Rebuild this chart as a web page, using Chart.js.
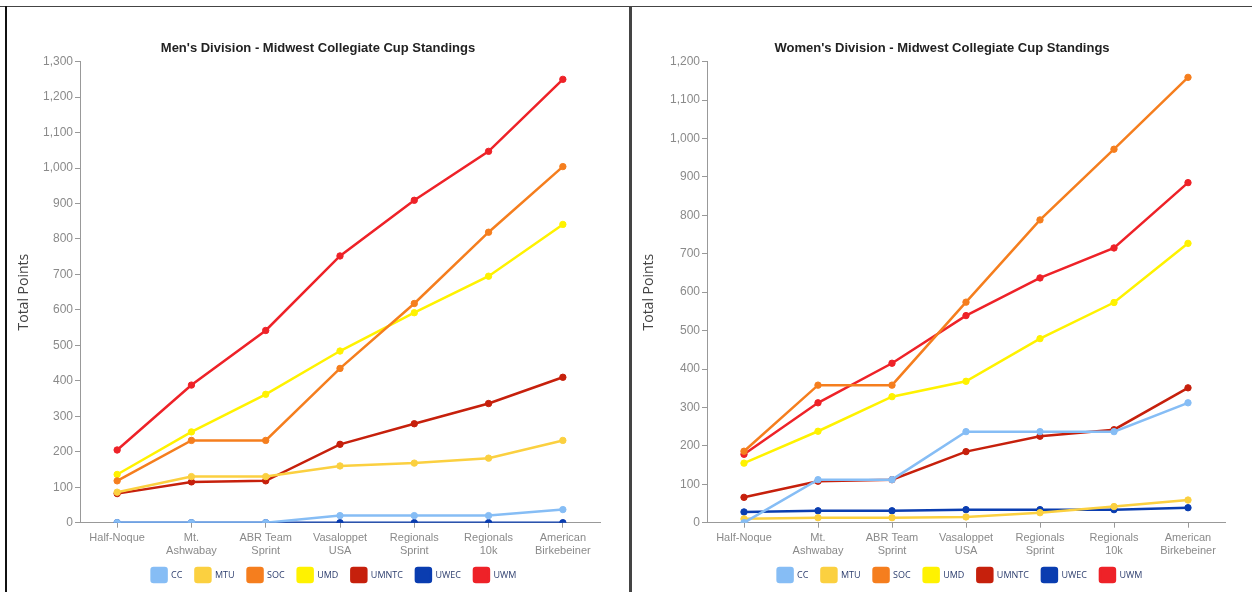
<!DOCTYPE html>
<html>
<head>
<meta charset="utf-8">
<title>Midwest Collegiate Cup Standings</title>
<script src="https://cdn.jsdelivr.net/npm/chart.js@4.4.1/dist/chart.umd.min.js"></script>
<style>
  html, body { margin: 0; padding: 0; background: #fff; }
  body { width: 1252px; height: 592px; position: relative; overflow: hidden; }
  .topline { position: absolute; left: 0; top: 6px; width: 1252px; height: 1px; background: #444; }
  .leftline { position: absolute; left: 5px; top: 6px; width: 2px; height: 586px; background: #111; }
  .divider { position: absolute; left: 629px; top: 6px; width: 3px; height: 586px; background: #444; }
  .panel { position: absolute; top: 7px; height: 585px; }
  #menPanel { left: 7px; width: 622px; }
  #womenPanel { left: 632px; width: 620px; }
</style>
</head>
<body>
<div class="topline"></div>
<div class="leftline"></div>
<div class="divider"></div>
<div class="panel" id="menPanel"><canvas id="menChart" width="622" height="585"></canvas></div>
<div class="panel" id="womenPanel"><canvas id="womenChart" width="620" height="585"></canvas></div>

<script>
// categories
const races = [
  "Half-Noque",
  ["Mt.", "Ashwabay"],
  ["ABR Team", "Sprint"],
  ["Vasaloppet", "USA"],
  ["Regionals", "Sprint"],
  ["Regionals", "10k"],
  ["American", "Birkebeiner"],
];
const teams = ["CC", "MTU", "SOC", "UMD", "UMNTC", "UWEC", "UWM"];
const teamColors = ["#86bdf5", "#fbd040", "#f57e1e", "#fff200", "#c6200c", "#0a3db0", "#ee2228"];

// men's totals after each race
const menCC = [0, 0, 0, 20, 20, 20, 37];
const menMTU = [86, 130, 130, 160, 168, 182, 232];
const menSOC = [118, 232, 232, 435, 618, 819, 1004];
const menUMD = [136, 256, 362, 484, 592, 695, 841];
const menUMNTC = [82, 115, 118, 221, 279, 336, 410];
const menUWEC = [0, 0, 0, 0, 0, 0, 0];
const menUWM = [205, 388, 542, 752, 909, 1047, 1250];

// women's totals after each race
const womenCC = [0, 112, 112, 237, 237, 237, 312];
const womenMTU = [10, 13, 13, 15, 26, 42, 59];
const womenSOC = [186, 358, 358, 574, 788, 972, 1159];
const womenUMD = [155, 238, 328, 368, 479, 573, 727];
const womenUMNTC = [66, 108, 112, 185, 225, 242, 351];
const womenUWEC = [28, 31, 31, 34, 34, 34, 39];
const womenUWM = [178, 312, 415, 539, 637, 715, 885];

const menYMax = 1300;
const womenYMax = 1200;

const gray = "#999";
const tickGray = "#8a8a8a";

// title centred on the whole panel, legend centred under the plot area,
// and let the two-line race names run into the gap above the legend
const recenter = {
  id: "recenter",
  afterLayout(chart) {
    const t = chart.titleBlock;
    const tShift = chart.width / 2 - (t.left + t.right) / 2;
    t.left += tShift;
    t.right += tShift;
    const lg = chart.legend;
    const area = chart.chartArea;
    const lShift = (area.left + area.right) / 2 - 6 - (lg.left + lg.right) / 2;
    lg.left += lShift;
    lg.right += lShift;
    chart.scales.x.bottom += 8;
  },
};

function makeChart(id, title, series, yMax, axisWidth, padRight) {
  const datasets = series.map((data, i) => ({
    label: teams[i],
    data: data,
    borderColor: teamColors[i],
    backgroundColor: teamColors[i],
    pointBackgroundColor: teamColors[i],
    pointBorderColor: teamColors[i],
    borderWidth: 2.5,
    pointRadius: 3.2,
    pointBorderWidth: 1,
    tension: 0,
  }));

  return new Chart(id, {
    type: "line",
    data: { labels: races, datasets: datasets },
    plugins: [recenter],
    options: {
      responsive: false,
      animation: false,
      layout: { padding: { left: 0, right: padRight, top: 0, bottom: 0 } },
      plugins: {
        title: {
          display: true,
          text: title,
          color: "#222",
          font: { family: "'Liberation Sans', Arial, sans-serif", size: 13, weight: "bold" },
          padding: { top: 34, bottom: 5 },
        },
        legend: {
          position: "bottom",
          labels: {
            boxWidth: 15,
            boxHeight: 14,
            padding: 13,
            color: "#2d3e6e",
            useBorderRadius: true,
            borderRadius: 2,
            font: { family: "'Open Sans', sans-serif", size: 9 },
          },
        },
        tooltip: { enabled: false },
      },
      scales: {
        x: {
          offset: true,
          border: { color: gray, width: 1 },
          grid: { offset: false, drawOnChartArea: false, drawTicks: true, tickLength: 5, color: gray },
          ticks: {
            color: tickGray,
            padding: 4,
            maxRotation: 0,
            autoSkip: false,
            font: { family: "'Liberation Sans', Arial, sans-serif", size: 11, lineHeight: 1.15 },
          },
          afterFit: (scale) => {
            scale.height = scale.height - 6;
          },
        },
        y: {
          min: 0,
          max: yMax,
          border: { color: gray, width: 1 },
          grid: { drawOnChartArea: false, drawTicks: true, tickLength: 5, color: gray },
          ticks: {
            stepSize: 100,
            color: tickGray,
            padding: 2,
            font: { family: "'Liberation Sans', Arial, sans-serif", size: 12 },
          },
          title: {
            display: true,
            text: "Total Points",
            color: "#444",
            padding: { top: 9, bottom: 0 },
            font: { family: "'Open Sans', sans-serif", size: 14 },
          },
          afterFit: (scale) => {
            scale.width = axisWidth;
          },
        },
      },
    },
  });
}

makeChart(
  "menChart",
  "Men's Division - Midwest Collegiate Cup Standings",
  [menCC, menMTU, menSOC, menUMD, menUMNTC, menUWEC, menUWM],
  menYMax,
  73,
  29
);

makeChart(
  "womenChart",
  "Women's Division - Midwest Collegiate Cup Standings",
  [womenCC, womenMTU, womenSOC, womenUMD, womenUMNTC, womenUWEC, womenUWM],
  womenYMax,
  75,
  27
);
</script>
</body>
</html>
